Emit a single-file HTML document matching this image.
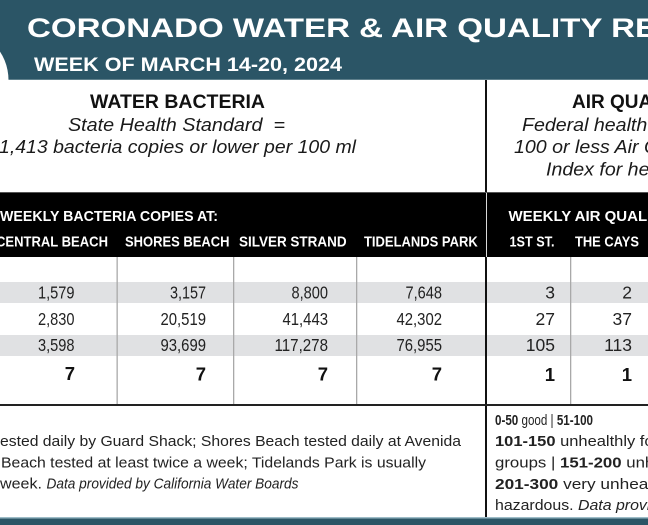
<!DOCTYPE html>
<html>
<head>
<meta charset="utf-8">
<style>
html,body{margin:0;padding:0;background:#fff;}
svg{display:block;}
text{white-space:pre;}
</style>
</head>
<body>
<svg width="648" height="525" viewBox="0 0 648 525" xmlns="http://www.w3.org/2000/svg" font-family="'Liberation Sans', Arial, sans-serif">
  <rect x="0" y="0" width="648" height="525" fill="#ffffff"/>

  <!-- Header band -->
  <rect x="0" y="0" width="648" height="80" fill="#2b5566"/>
  <rect x="0" y="79" width="648" height="1" fill="#5f808c"/>
  <circle cx="-43" cy="80" r="51.5" fill="#ffffff"/>
  <rect x="0" y="80" width="648" height="6" fill="#ffffff"/>

  <text x="27" y="37" font-size="26.5" font-weight="bold" fill="#ffffff" textLength="722" lengthAdjust="spacingAndGlyphs">CORONADO WATER &amp; AIR QUALITY REPORT</text>
  <text x="34" y="71" font-size="19.5" font-weight="bold" fill="#ffffff" textLength="308" lengthAdjust="spacingAndGlyphs">WEEK OF MARCH 14-20, 2024</text>

  <!-- Divider -->
  <rect x="485" y="80" width="2" height="437" fill="#111111"/>

  <!-- Water bacteria title block -->
  <text x="90" y="108" font-size="19" font-weight="bold" fill="#111111" textLength="175" lengthAdjust="spacingAndGlyphs">WATER BACTERIA</text>
  <text x="68" y="131" font-size="18.5" font-style="italic" fill="#1a1a1a" textLength="217" lengthAdjust="spacingAndGlyphs">State Health Standard  =</text>
  <text x="-1" y="153" font-size="18.5" font-style="italic" fill="#1a1a1a" textLength="357" lengthAdjust="spacingAndGlyphs">1,413 bacteria copies or lower per 100 ml</text>

  <!-- Air quality title block -->
  <text x="572" y="108" font-size="19" font-weight="bold" fill="#111111">AIR QUALITY</text>
  <text transform="translate(522,131) scale(1.06,1)" font-size="18.5" font-style="italic" fill="#1a1a1a">Federal health standard =</text>
  <text transform="translate(514,153) scale(1.06,1)" font-size="18.5" font-style="italic" fill="#1a1a1a">100 or less Air Quality</text>
  <text transform="translate(546,175.5) scale(1.06,1)" font-size="18.5" font-style="italic" fill="#1a1a1a">Index for health</text>

  <!-- Black header band -->
  <rect x="0" y="193" width="648" height="64" fill="#000000"/>
  <rect x="0" y="192" width="648" height="1" fill="#555555"/>
  <rect x="486" y="193" width="1" height="64" fill="#d8d8d8"/>

  <text x="0" y="221" font-size="15" font-weight="bold" fill="#ffffff" textLength="218" lengthAdjust="spacingAndGlyphs">WEEKLY BACTERIA COPIES AT:</text>
  <text x="508.5" y="221" font-size="15" font-weight="bold" fill="#ffffff">WEEKLY AIR QUALITY INDEX</text>

  <text x="-4" y="246.5" font-size="15" font-weight="bold" fill="#ffffff" textLength="112" lengthAdjust="spacingAndGlyphs">CENTRAL BEACH</text>
  <text x="125" y="246.5" font-size="15" font-weight="bold" fill="#ffffff" textLength="104.5" lengthAdjust="spacingAndGlyphs">SHORES BEACH</text>
  <text x="239" y="246.5" font-size="15" font-weight="bold" fill="#ffffff" textLength="107.6" lengthAdjust="spacingAndGlyphs">SILVER STRAND</text>
  <text x="364" y="246.5" font-size="15" font-weight="bold" fill="#ffffff" textLength="113.7" lengthAdjust="spacingAndGlyphs">TIDELANDS PARK</text>
  <text x="509.5" y="246.5" font-size="15" font-weight="bold" fill="#ffffff" textLength="45" lengthAdjust="spacingAndGlyphs">1ST ST.</text>
  <text x="575" y="246.5" font-size="15" font-weight="bold" fill="#ffffff" textLength="64" lengthAdjust="spacingAndGlyphs">THE CAYS</text>

  <!-- Gray stripes -->
  <rect x="0" y="282" width="648" height="21" fill="#e0e1e3"/>
  <rect x="0" y="335" width="648" height="21" fill="#e0e1e3"/>

  <!-- Column lines -->
  <rect x="116.5" y="257" width="1.3" height="147" fill="#a9a9a9"/>
  <rect x="233" y="257" width="1.3" height="147" fill="#a9a9a9"/>
  <rect x="356" y="257" width="1.3" height="147" fill="#a9a9a9"/>
  <rect x="570" y="257" width="1.3" height="147" fill="#a9a9a9"/>
  <rect x="485" y="257" width="2" height="260" fill="#111111"/>

  <!-- Bottom rule of table -->
  <rect x="0" y="404" width="648" height="2" fill="#222222"/>

  <!-- Data rows -->
  <g font-size="17.5" fill="#222222">
    <text x="38" y="298.5" textLength="36.5" lengthAdjust="spacingAndGlyphs">1,579</text>
    <text x="170" y="298.5" textLength="36" lengthAdjust="spacingAndGlyphs">3,157</text>
    <text x="291.5" y="298.5" textLength="36.5" lengthAdjust="spacingAndGlyphs">8,800</text>
    <text x="405.5" y="298.5" textLength="36.5" lengthAdjust="spacingAndGlyphs">7,648</text>
    <text x="555" y="298.5" text-anchor="end">3</text>
    <text x="632" y="298.5" text-anchor="end">2</text>

    <text x="38" y="325" textLength="36.5" lengthAdjust="spacingAndGlyphs">2,830</text>
    <text x="160.5" y="325" textLength="45.5" lengthAdjust="spacingAndGlyphs">20,519</text>
    <text x="282.5" y="325" textLength="45.5" lengthAdjust="spacingAndGlyphs">41,443</text>
    <text x="396.5" y="325" textLength="45.5" lengthAdjust="spacingAndGlyphs">42,302</text>
    <text x="555" y="325" text-anchor="end">27</text>
    <text x="632" y="325" text-anchor="end">37</text>

    <text x="38" y="351" textLength="36.5" lengthAdjust="spacingAndGlyphs">3,598</text>
    <text x="160.5" y="351" textLength="45.5" lengthAdjust="spacingAndGlyphs">93,699</text>
    <text x="274.5" y="351" textLength="53.5" lengthAdjust="spacingAndGlyphs">117,278</text>
    <text x="396.5" y="351" textLength="45.5" lengthAdjust="spacingAndGlyphs">76,955</text>
    <text x="555" y="351" text-anchor="end">105</text>
    <text x="632" y="351" text-anchor="end">113</text>
  </g>

  <!-- Bold totals row -->
  <g font-size="18.5" font-weight="bold" fill="#111111" text-anchor="end">
    <text x="75" y="380">7</text>
    <text x="206" y="380.5">7</text>
    <text x="328" y="380.5">7</text>
    <text x="442" y="380.5">7</text>
    <text x="555" y="381">1</text>
    <text x="632" y="381">1</text>
  </g>

  <!-- Footer left -->
  <g font-size="14.5" fill="#222222">
    <text x="0" y="446" textLength="461" lengthAdjust="spacingAndGlyphs">ested daily by Guard Shack; Shores Beach tested daily at Avenida</text>
    <text x="1" y="467.5" textLength="425" lengthAdjust="spacingAndGlyphs">Beach tested at least twice a week; Tidelands Park is usually</text>
    <text x="0" y="488.5" textLength="42" lengthAdjust="spacingAndGlyphs">week.</text>
    <text x="46.5" y="488.5" font-style="italic" textLength="252" lengthAdjust="spacingAndGlyphs">Data provided by California Water Boards</text>
  </g>

  <!-- Footer right -->
  <g font-size="15" fill="#222222">
    <text x="495" y="425" textLength="98" lengthAdjust="spacingAndGlyphs"><tspan font-weight="bold">0-50</tspan> good | <tspan font-weight="bold">51-100</tspan></text>
    <text transform="translate(495,446) scale(1.1,1)"><tspan font-weight="bold">101-150</tspan> unhealthly for sensitive</text>
    <text transform="translate(495,467.5) scale(1.12,1)">groups | <tspan font-weight="bold">151-200</tspan> unhealthy</text>
    <text transform="translate(495,489) scale(1.15,1)"><tspan font-weight="bold">201-300</tspan> very unhealthy</text>
    <text transform="translate(495,510) scale(1.06,1)">hazardous. <tspan font-style="italic">Data provided by</tspan></text>
  </g>

  <!-- Bottom band -->
  <rect x="0" y="517" width="648" height="1.5" fill="#9dbcc7"/>
  <rect x="0" y="518.5" width="648" height="6.5" fill="#2b5566"/>
</svg>
</body>
</html>
